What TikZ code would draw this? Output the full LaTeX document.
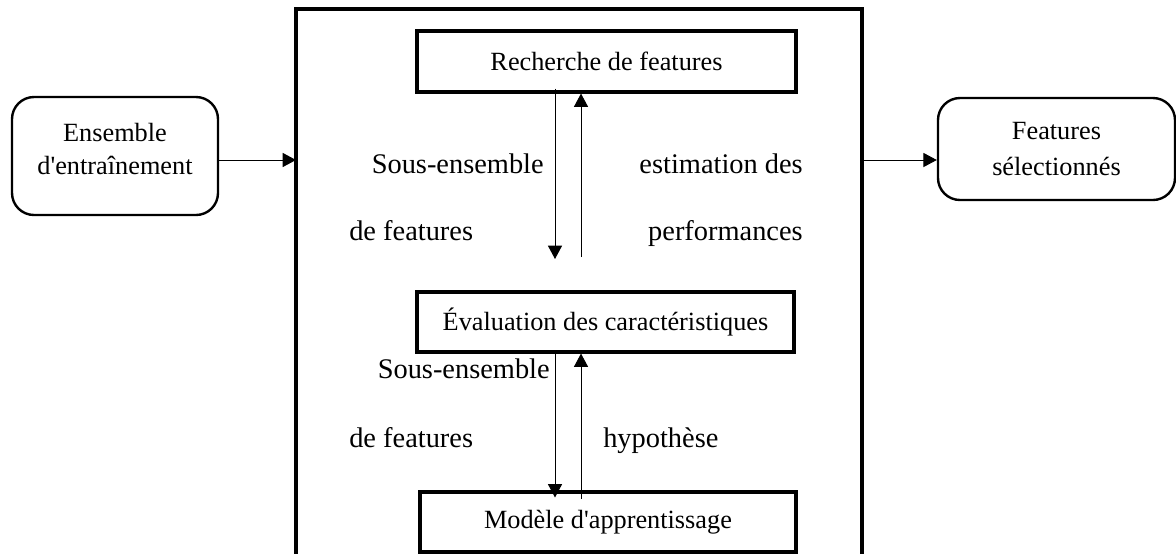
\documentclass[tikz,border=0pt]{standalone}
\usepackage{fontspec}
\setmainfont{Liberation Serif}
\usetikzlibrary{arrows.meta}

\begin{document}
\begin{tikzpicture}[
    bloc/.style={draw,line width=2.2pt,font=\fontsize{18.7}{23.4}\selectfont},
    arrondi/.style={draw,line width=1.7pt,rounded corners=0.55cm,align=center,
      font=\fontsize{18.7}{23.4}\selectfont},
    fleche/.style={line width=0.7pt,-{Triangle[length=9.5pt,width=10pt]}}]
    \useasboundingbox (0,0) rectangle (29.4,-13.85);
    \clip (0,0) rectangle (29.4,-13.85);
    % définition des points
    \coordinate (entree) at (7.4,-4);
    \coordinate (sortie) at (21.55,-4);
    \coordinate (colA) at (13.875,0);
    \coordinate (colB) at (14.525,0);
    \coordinate (basA) at (13.875,-6.475);
    \coordinate (basB) at (14.525,-6.425);
    % les blocs
    \node[arrondi,minimum width=5.15cm,minimum height=2.95cm,text depth=0.35cm] (ensemble) at (2.875,-3.9)
      {Ensemble\\d\textquotesingle entraînement};
    \node[arrondi,minimum width=5.925cm,minimum height=2.55cm] (selection) at (26.4125,-3.725)
      {Features\\[0.1cm]sélectionnés};
    \node[draw,line width=2.5pt,minimum width=14.15cm,minimum height=14.55cm] (cadre) at (14.475,-7.5) {};
    \node[bloc,minimum width=9.475cm,minimum height=1.525cm] (recherche) at (15.1625,-1.5375)
      {Recherche de features};
    \node[bloc,minimum width=9.425cm,minimum height=1.5cm] (evaluation) at (15.1375,-8.05)
      {Évaluation des caractéristiques};
    \node[bloc,minimum width=9.4cm,minimum height=1.5cm] (modele) at (15.2,-13.05)
      {Modèle d\textquotesingle apprentissage};
    % tracer
    \draw[fleche] (ensemble.east |- entree) -- (entree);
    \draw[fleche] (sortie) -- (selection.west |- sortie);
    \draw[fleche,shorten <=-3.5pt] (recherche.south -| colA) -- (basA);
    \draw[fleche] (basB) -- (recherche.south -| colB);
    \draw[fleche,shorten >=-5pt] (evaluation.south -| colA) -- (modele.north -| colA);
    \draw[fleche,shorten <=-6pt] (modele.north -| colB) -- (evaluation.south -| colB);
    % les étiquettes
    \begin{scope}[etiq/.style={inner sep=0pt,font=\fontsize{20.2}{24}\selectfont}]
      \node[etiq,anchor=base east] (sousA) at (13.6,-4.325) {Sous-ensemble};
      \node[etiq,anchor=base west] (featA) at (8.725,-6.0) {de features};
      \node[etiq,anchor=base east] (estim) at (20.075,-4.325) {estimation des};
      \node[etiq,anchor=base east] (perf) at (20.075,-6.0) {performances};
      \node[etiq,anchor=base east] (sousB) at (13.75,-9.45) {Sous-ensemble};
      \node[etiq,anchor=base west] (featB) at (8.725,-11.175) {de features};
      \node[etiq,anchor=base west] (hypo) at (15.075,-11.175) {hypothèse};
    \end{scope}
\end{tikzpicture}
\end{document}
